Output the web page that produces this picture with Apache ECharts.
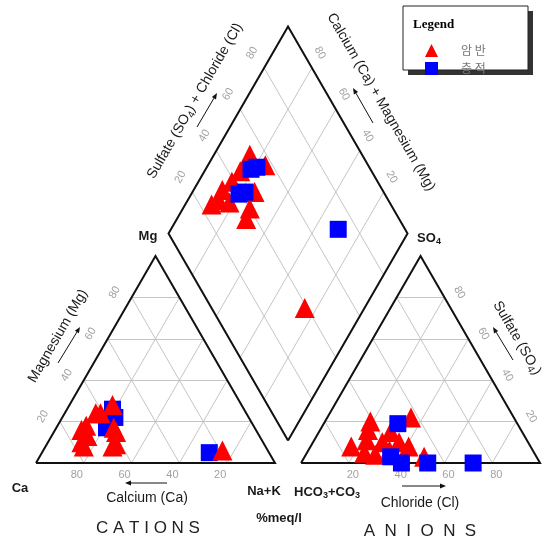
<!DOCTYPE html>
<html>
<head>
<meta charset="utf-8">
<script src="https://cdn.jsdelivr.net/npm/echarts@6/dist/echarts.min.js"></script>
<style>
  html, body { margin: 0; padding: 0; background: #fff; }
  #chart { width: 542px; height: 542px; }
</style>
</head>
<body>
<div id="chart"></div>
<script>
// Piper diagram: cation triangle, anion triangle and the central diamond.
// All values are %meq/l.

const groupNames = ['암 반', '충 적'];

// 암반 samples
const rockCa   = [61, 59, 72, 59, 70, 63, 73, 62, 64, 76, 76, 54, 19];
const rockMg   = [24, 17, 13, 15, 18, 24, 16,  9,  8, 10,  8, 28,  6];
const rockNaK  = [15, 24, 15, 26, 12, 13, 11, 29, 28, 14, 16, 18, 75];
const rockHCO3 = [47, 43, 55, 54, 67, 71, 75, 64, 60, 61, 51, 67, 61];
const rockCl   = [50, 35, 30, 36, 22, 24, 17, 20, 34, 29, 41, 29, 19];
const rockSO4  = [ 3, 22, 15, 10, 11,  5,  8, 16,  6, 10,  8,  4, 20];

// 충적 samples
const alluCa   = [55, 60, 56, 62, 25];
const alluMg   = [26, 20, 22, 17,  5];
const alluNaK  = [19, 20, 22, 21, 70];
const alluHCO3 = [50, 61, 58, 47, 28];
const alluCl   = [31, 36, 42, 53, 72];
const alluSO4  = [19,  3,  0,  0,  0];

const gridTicks = [20, 40, 60, 80];

// ---- geometry (triangle side = 1 unit) ----
const H = Math.sqrt(3) / 2;
const GAP = 0.109;
const SCALE = 239;           // pixels per unit
const ORIGIN = [36, 463];    // pixel position of the Ca corner

function cationXY(mg, na) { return [na / 100 + mg / 200, (mg / 100) * H]; }
function anionXY(cl, so4) { return [1 + GAP + cl / 100 + so4 / 200, (so4 / 100) * H]; }
function diamondXY(caMg, so4Cl) {
  const a = caMg / 100, b = so4Cl / 100;
  return [1 + GAP / 2 + 0.5 * (b - a), GAP * H + H * (a + b)];
}
// shift a data point by a pixel offset (used for tick label anchors)
function nudge(p, dx, dy) { return [p[0] + dx / SCALE, p[1] - dy / SCALE]; }

// ---- outlines and grid ----
const outlines = [
  [cationXY(0, 0), cationXY(0, 100), cationXY(100, 0), cationXY(0, 0)],
  [anionXY(0, 0), anionXY(100, 0), anionXY(0, 100), anionXY(0, 0)],
  [diamondXY(0, 0), diamondXY(100, 0), diamondXY(100, 100), diamondXY(0, 100), diamondXY(0, 0)]
];
const gridSegs = [];
gridTicks.forEach(v => {
  gridSegs.push([cationXY(v, 0), cationXY(v, 100 - v)]);          // Mg
  gridSegs.push([cationXY(0, v), cationXY(100 - v, v)]);          // Na+K
  gridSegs.push([cationXY(0, 100 - v), cationXY(100 - v, 0)]);    // Ca
  gridSegs.push([anionXY(0, v), anionXY(100 - v, v)]);            // SO4
  gridSegs.push([anionXY(v, 0), anionXY(v, 100 - v)]);            // Cl
  gridSegs.push([anionXY(100 - v, 0), anionXY(0, 100 - v)]);      // HCO3
  gridSegs.push([diamondXY(v, 0), diamondXY(v, 100)]);            // Ca+Mg
  gridSegs.push([diamondXY(0, v), diamondXY(100, v)]);            // SO4+Cl
});

// ---- tick labels ----
function tickSeries(points, rotate) {
  return {
    type: 'scatter', silent: true, symbolSize: 0, z: 3,
    data: points,
    label: {
      show: true, position: 'inside', rotate: rotate,
      formatter: p => p.data[2],
      color: '#8a8a8a', fontSize: 11, fontFamily: 'Liberation Sans'
    }
  };
}
const tickCa   = gridTicks.map(v => [...nudge(cationXY(0, 100 - v), -7, 12), v]);
const tickMg   = gridTicks.map(v => [...nudge(cationXY(v, 0), -17, -5), v]);
const tickCl   = gridTicks.map(v => [...nudge(anionXY(v, 0), 4, 12), v]);
const tickSO4  = gridTicks.map(v => [...nudge(anionXY(100 - v, v), 15, -5), v]);
const tickSC   = gridTicks.map(v => [...nudge(diamondXY(100, v), -12, -15), v]);
const tickCM   = gridTicks.map(v => [...nudge(diamondXY(v, 100), 8, -15), v]);

// ---- sample points ----
const RED = '#ff0000', BLUE = '#0000ff';
function pts(fn, n) { const out = []; for (let i = 0; i < n; i++) out.push(fn(i)); return out; }
const rockCation  = pts(i => cationXY(rockMg[i], rockNaK[i]), rockCa.length);
const rockAnion   = pts(i => anionXY(rockCl[i], rockSO4[i]), rockHCO3.length);
const rockDiamond = pts(i => diamondXY(100 - rockNaK[i], rockCl[i] + rockSO4[i]), rockCa.length);
const alluCation  = pts(i => cationXY(alluMg[i], alluNaK[i]), alluCa.length);
const alluAnion   = pts(i => anionXY(alluCl[i], alluSO4[i]), alluHCO3.length);
const alluDiamond = pts(i => diamondXY(100 - alluNaK[i], alluCl[i] + alluSO4[i]), alluCa.length);

function markSeries(name, data, symbol, size, color) {
  return { type: 'scatter', name: name, data: data, symbol: symbol, symbolSize: size,
           itemStyle: { color: color, opacity: 1 }, z: 5 };
}

// ---- text and arrows ----
const FONT = 'Liberation Sans';
function txt(x, y, text, opt) {
  opt = opt || {};
  return {
    type: 'text', x: x, y: y, rotation: opt.rot || 0, z: 20,
    style: {
      text: text, fill: opt.color || '#1a1a1a',
      fontSize: opt.size || 14, fontFamily: opt.family || FONT, fontWeight: opt.weight || 'normal',
      align: opt.align || 'center', verticalAlign: 'middle', rich: opt.rich
    }
  };
}
function subRich(size, weight) {
  return {
    a: { fontSize: size, fontFamily: FONT, fontWeight: weight || 'normal', fill: '#1a1a1a', lineHeight: size + 4 },
    s: { fontSize: Math.round(size * 0.68), fontFamily: FONT, fontWeight: weight || 'normal', fill: '#1a1a1a', verticalAlign: 'bottom' }
  };
}
function arrow(x1, y1, x2, y2) {
  const ang = Math.atan2(y2 - y1, x2 - x1);
  const L = 6, W = 2.4;
  const bx = x2 - L * Math.cos(ang), by = y2 - L * Math.sin(ang);
  const px = -Math.sin(ang) * W, py = Math.cos(ang) * W;
  return [
    { type: 'line', z: 20, shape: { x1: x1, y1: y1, x2: bx, y2: by }, style: { stroke: '#111', lineWidth: 1 } },
    { type: 'polygon', z: 20, shape: { points: [[x2, y2], [bx + px, by + py], [bx - px, by - py]] }, style: { fill: '#111' } }
  ];
}
const R60 = Math.PI / 3;

const graphics = [
  // legend box
  { type: 'rect', z: 1, shape: { x: 408, y: 11, width: 125, height: 64 }, style: { fill: '#333' } },
  { type: 'rect', z: 2, shape: { x: 403, y: 6, width: 125, height: 64 }, style: { fill: '#fff', stroke: '#222', lineWidth: 1 } },
  txt(413, 25, 'Legend', { family: 'Liberation Serif', weight: 'bold', size: 13, align: 'left', color: '#000' }),

  // cation triangle
  txt(58, 336, 'Magnesium (Mg)', { rot: R60 }),
  txt(147, 498, 'Calcium (Ca)'),
  txt(148, 528, 'C A T I O N S', { size: 17, color: '#222' }),
  txt(20, 488, 'Ca', { weight: 'bold', size: 13 }),
  txt(264, 491, 'Na+K', { weight: 'bold', size: 13 }),
  txt(148, 236, 'Mg', { weight: 'bold', size: 13 }),

  // anion triangle
  txt(327, 492, '{a|HCO}{s|3}{a|+CO}{s|3}', { rich: subRich(13, 'bold') }),
  txt(279, 518, '%meq/l', { weight: 'bold', size: 13 }),
  txt(420, 503, 'Chloride (Cl)'),
  txt(420, 531, 'A  N  I  O  N  S', { size: 17, color: '#222' }),
  txt(517, 338, '{a|Sulfate (SO}{s|4}{a|)}', { rot: -R60, rich: subRich(14) }),
  txt(429, 238, '{a|SO}{s|4}', { rich: subRich(13, 'bold') }),

  // diamond
  txt(195, 101, '{a|Sulfate (SO}{s|4}{a|) + Chloride (Cl)}', { rot: R60, rich: subRich(14) }),
  txt(381, 102, 'Calcium (Ca) + Magnesium (Mg)', { rot: -R60 }),

  ...arrow(58, 363, 80, 327),
  ...arrow(167, 483, 125, 483),
  ...arrow(402, 486, 446, 486),
  ...arrow(513, 360, 493, 327),
  ...arrow(197, 127, 217, 93),
  ...arrow(373, 123, 353, 88)
];

const chart = echarts.init(document.getElementById('chart'), null, { renderer: 'canvas' });
chart.setOption({
  animation: false,
  backgroundColor: '#fff',
  grid: { left: 0, right: 0, top: 0, bottom: 0 },
  xAxis: { type: 'value', min: -ORIGIN[0] / SCALE, max: (542 - ORIGIN[0]) / SCALE, show: false },
  yAxis: { type: 'value', min: -(542 - ORIGIN[1]) / SCALE, max: ORIGIN[1] / SCALE, show: false },
  legend: {
    data: groupNames, orient: 'vertical', left: 420, top: 39,
    itemWidth: 13, itemHeight: 13, itemGap: 5, z: 30,
    textStyle: { color: '#777', fontSize: 12, fontFamily: 'Noto Sans CJK KR', padding: [0, 0, 0, 18] },
    selectedMode: false
  },
  graphic: { elements: graphics },
  series: [
    { type: 'lines', coordinateSystem: 'cartesian2d', silent: true, z: 1,
      data: gridSegs.map(c => ({ coords: c })),
      lineStyle: { color: '#bdbdbd', width: 0.9, opacity: 1 } },
    { type: 'lines', coordinateSystem: 'cartesian2d', polyline: true, silent: true, z: 2,
      data: outlines.map(c => ({ coords: c })),
      lineStyle: { color: '#111', width: 2, opacity: 1 } },
    tickSeries(tickCa, 0),
    tickSeries(tickMg, 60),
    tickSeries(tickCl, 0),
    tickSeries(tickSO4, -60),
    tickSeries(tickSC, 60),
    tickSeries(tickCM, -60),
    markSeries(groupNames[1], alluCation, 'rect', 17, BLUE),
    markSeries(groupNames[0], rockCation, 'triangle', 20, RED),
    markSeries(groupNames[0], rockAnion, 'triangle', 20, RED),
    markSeries(groupNames[1], alluAnion, 'rect', 17, BLUE),
    markSeries(groupNames[0], rockDiamond, 'triangle', 20, RED),
    markSeries(groupNames[1], alluDiamond, 'rect', 17, BLUE)
  ]
});
</script>
</body>
</html>
